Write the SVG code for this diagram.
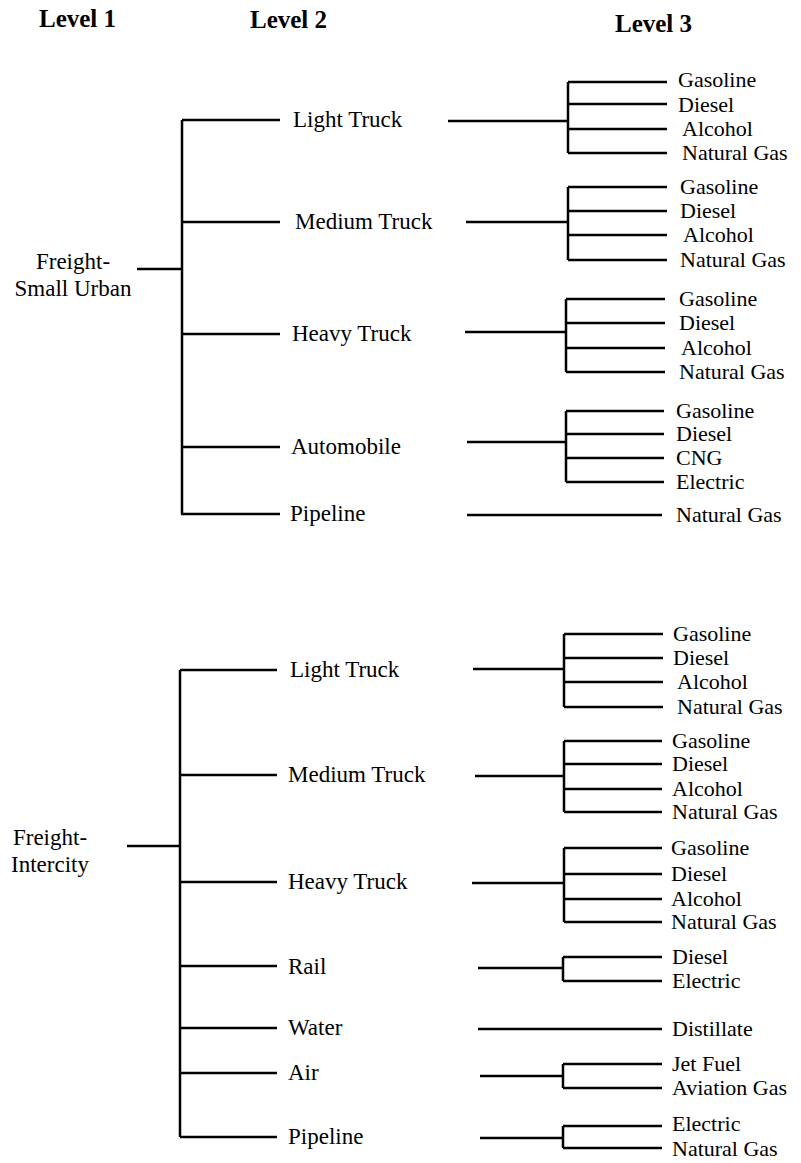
<svg xmlns="http://www.w3.org/2000/svg" width="801" height="1163" viewBox="0 0 801 1163">
<style>
text{font-family:"Liberation Serif","Times New Roman",serif;font-size:23px;fill:#000}
.f text{font-size:22px}
.h{font-weight:bold;font-size:25px}
.c{text-anchor:middle}
.ln{stroke:#000;stroke-width:2.5;fill:none}
</style>
<rect width="801" height="1163" fill="#fff"/>
<g id="headers">
<text class="h" x="39" y="27">Level 1</text>
<text class="h" x="250" y="28">Level 2</text>
<text class="h" x="615" y="32">Level 3</text>
</g>
<g id="connectors" class="ln">
<path d="M137 269H182M182 120V514M182 120H280M182 222H280M182 334H280M182 447H280M181 514H280"/>
<path d="M448 121H568M568 82V153M568 82H667M568 104H667M568 129H667M568 153H667"/>
<path d="M466 222H568M568 187V260M568 187H667M568 211H667M568 235H667M568 260H667"/>
<path d="M465 332H566M566 299V372M566 299H665M566 323H665M566 348H665M566 372H665"/>
<path d="M467 442H566M566 411V482M566 411H664M566 434H664M566 458H664M566 482H664"/>
<path d="M467 515H662"/>
<path d="M127 846H180M180 670V1137M180 670H277M180 775H277M180 882H277M180 966H277M180 1028H277M180 1073H277M180 1137H277"/>
<path d="M473 669H564M564 634V707M564 634H663M564 658H663M564 682H663M564 707H663"/>
<path d="M475 776H564M564 741V812M564 741H662M564 764H662M564 789H662M564 812H662"/>
<path d="M472 883H564M564 848V922M564 848H662M564 874H662M564 899H662M564 922H662"/>
<path d="M478 968H563M563 957V981M563 957H662M563 981H662"/>
<path d="M478 1029H662"/>
<path d="M480 1076H563M563 1064V1088M563 1064H662M563 1088H662"/>
<path d="M480 1138H563M563 1126V1148M563 1126H662M563 1148H662"/>
</g>
<g id="n-freight-small-urban"><text class="c" x="73" y="269">Freight-</text><text class="c" x="73" y="296">Small Urban</text></g>
<g id="n-su-light"><text x="293" y="127">Light Truck</text></g>
<g id="n-su-medium"><text x="295" y="229">Medium Truck</text></g>
<g id="n-su-heavy"><text x="292" y="341">Heavy Truck</text></g>
<g id="n-su-auto"><text x="291" y="454">Automobile</text></g>
<g id="n-su-pipe"><text x="290" y="521">Pipeline</text></g>
<g id="n-su-light-fuels" class="f"><text x="678" y="87">Gasoline</text><text x="678" y="112">Diesel</text><text x="682" y="136">Alcohol</text><text x="682" y="160">Natural Gas</text></g>
<g id="n-su-medium-fuels" class="f"><text x="680" y="194">Gasoline</text><text x="680" y="218">Diesel</text><text x="683" y="242">Alcohol</text><text x="680" y="267">Natural Gas</text></g>
<g id="n-su-heavy-fuels" class="f"><text x="679" y="306">Gasoline</text><text x="679" y="330">Diesel</text><text x="681" y="355">Alcohol</text><text x="679" y="379">Natural Gas</text></g>
<g id="n-su-auto-fuels" class="f"><text x="676" y="418">Gasoline</text><text x="676" y="441">Diesel</text><text x="676" y="465">CNG</text><text x="676" y="489">Electric</text></g>
<g id="n-su-pipe-fuels" class="f"><text x="676" y="522">Natural Gas</text></g>
<g id="n-freight-intercity"><text class="c" x="50" y="845">Freight-</text><text class="c" x="50" y="872">Intercity</text></g>
<g id="n-ic-light"><text x="290" y="677">Light Truck</text></g>
<g id="n-ic-medium"><text x="288" y="782">Medium Truck</text></g>
<g id="n-ic-heavy"><text x="288" y="889">Heavy Truck</text></g>
<g id="n-ic-rail"><text x="288" y="974">Rail</text></g>
<g id="n-ic-water"><text x="288" y="1035">Water</text></g>
<g id="n-ic-air"><text x="288" y="1080">Air</text></g>
<g id="n-ic-pipe"><text x="288" y="1144">Pipeline</text></g>
<g id="n-ic-light-fuels" class="f"><text x="673" y="641">Gasoline</text><text x="673" y="665">Diesel</text><text x="677" y="689">Alcohol</text><text x="677" y="714">Natural Gas</text></g>
<g id="n-ic-medium-fuels" class="f"><text x="672" y="748">Gasoline</text><text x="672" y="771">Diesel</text><text x="672" y="796">Alcohol</text><text x="672" y="819">Natural Gas</text></g>
<g id="n-ic-heavy-fuels" class="f"><text x="671" y="855">Gasoline</text><text x="671" y="881">Diesel</text><text x="671" y="906">Alcohol</text><text x="671" y="929">Natural Gas</text></g>
<g id="n-ic-rail-fuels" class="f"><text x="672" y="964">Diesel</text><text x="672" y="988">Electric</text></g>
<g id="n-ic-water-fuels" class="f"><text x="672" y="1036">Distillate</text></g>
<g id="n-ic-air-fuels" class="f"><text x="672" y="1071">Jet Fuel</text><text x="672" y="1095">Aviation Gas</text></g>
<g id="n-ic-pipe-fuels" class="f"><text x="672" y="1131">Electric</text><text x="672" y="1156">Natural Gas</text></g>
</svg>
